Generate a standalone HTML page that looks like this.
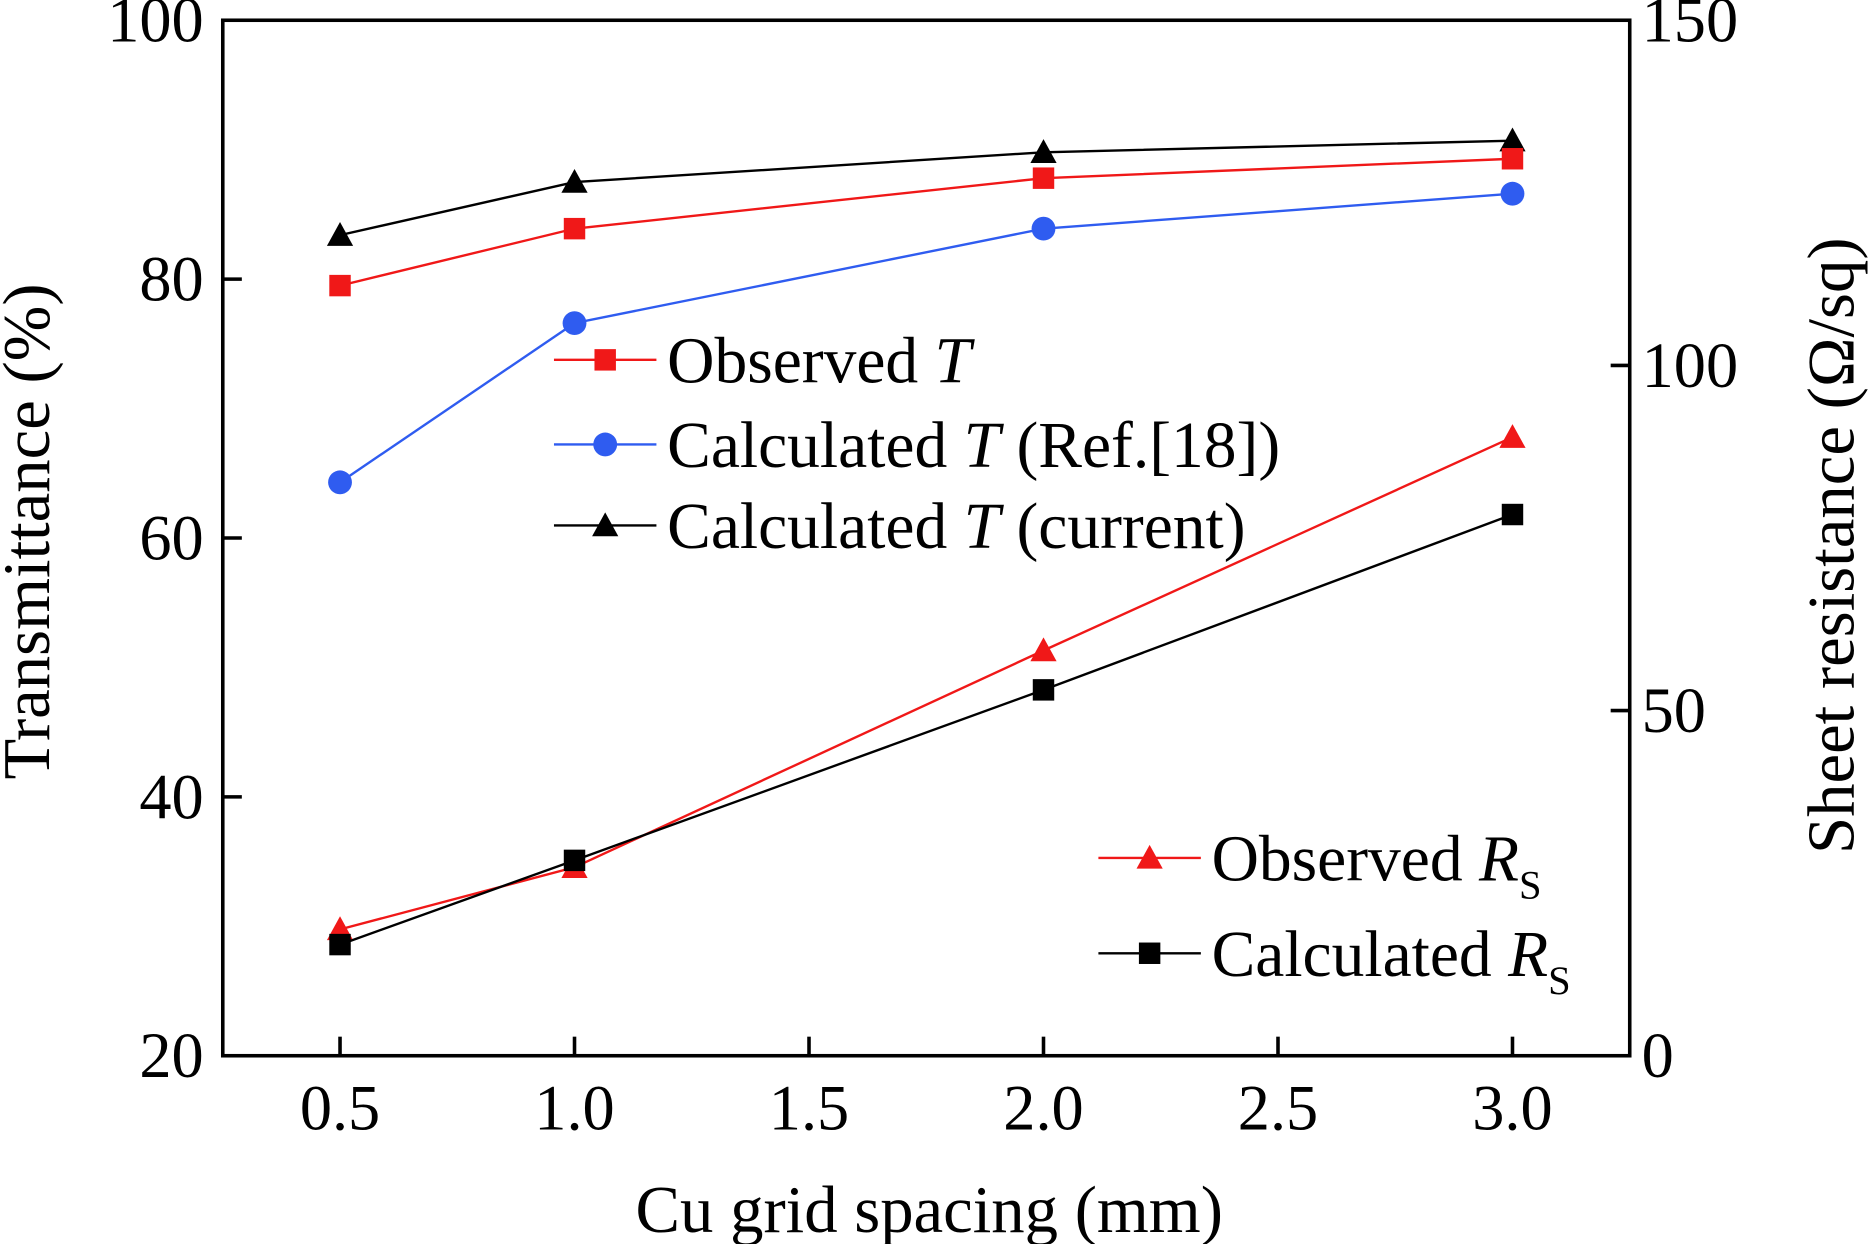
<!DOCTYPE html>
<html><head><meta charset="utf-8"><style>html,body{margin:0;padding:0;background:#fff}svg{display:block}text{font-family:"Liberation Serif",serif;fill:#000}</style></head>
<body>
<svg id="chart" width="1868" height="1244" viewBox="0 0 1568 1044" preserveAspectRatio="none" xmlns="http://www.w3.org/2000/svg"></svg>
<script>
const xCats=[0.5,1.0,2.0,3.0];
const obsT=[79.5,83.9,87.8,89.3];
const calcTRef=[64.3,76.6,83.9,86.6];
const calcTCur=[83.4,87.5,89.8,90.7];
const obsRs=[18.3,27.3,58.7,89.6];
const calcRs=[16.1,28.3,53.0,78.4];
const xTicks=[0.5,1.0,1.5,2.0,2.5,3.0];
const xTickLabels=["0.5","1.0","1.5","2.0","2.5","3.0"];
const yTicks=[20,40,60,80,100];
const y2Ticks=[0,50,100,150];

const L=187,R=1368,T=17,B=886;
const sx=v=>L+(v-0.25)/3.0*(R-L);
const sy=v=>B-(v-20)/80*(B-T);
const sy2=v=>B-v/150*(B-T);
const svg=document.getElementById('chart');
const NS="http://www.w3.org/2000/svg";
function el(tag,attrs,parent){const e=document.createElementNS(NS,tag);for(const k in attrs)e.setAttribute(k,attrs[k]);(parent||svg).appendChild(e);return e;}

const frame=el('rect',{x:L,y:T,width:R-L,height:B-T,fill:'none',stroke:'#000','stroke-width':3});



xTicks.forEach((v,i)=>{
  const t=el('line',{x1:sx(v),x2:sx(v),y1:B,y2:B-16,stroke:'#000','stroke-width':3});
  
  
  const l=el('text',{x:sx(v),y:948,'font-size':54,'text-anchor':'middle'});
  l.textContent=xTickLabels[i];
  
  
});
yTicks.forEach(v=>{
  const t=el('line',{x1:L,x2:L+16,y1:sy(v),y2:sy(v),stroke:'#000','stroke-width':3});
  
  
  const l=el('text',{x:171,y:sy(v)+18,'font-size':54,'text-anchor':'end'});
  l.textContent=String(v);
  
  
});
y2Ticks.forEach(v=>{
  const t=el('line',{x1:R,x2:R-16,y1:sy2(v),y2:sy2(v),stroke:'#000','stroke-width':3});
  
  
  const l=el('text',{x:1378,y:sy2(v)+18,'font-size':54,'text-anchor':'start'});
  l.textContent=String(v);
  
  
});

let tt=el('text',{x:780,y:1034,'font-size':56,'text-anchor':'middle'});
tt.textContent='Cu grid spacing (mm)';


tt=el('text',{x:0,y:0,'font-size':56,'text-anchor':'middle',transform:'translate(41,446) rotate(-90)'});
tt.textContent='Transmittance (%)';


tt=el('text',{x:0,y:0,'font-size':56,'text-anchor':'middle',transform:'translate(1556,458) rotate(-90)'});
tt.textContent='Sheet resistance (\u03A9/sq)';



function marker(shape,cx,cy,color,s){
  let m;
  if(shape==='sq')m=el('rect',{x:cx-s,y:cy-s,width:2*s,height:2*s,fill:color});
  else if(shape==='ci')m=el('circle',{cx:cx,cy:cy,r:s+1,fill:color});
  else m=el('polygon',{points:`${cx},${cy-s-2} ${cx+s+2},${cy+s} ${cx-s-2},${cy+s}`,fill:color});
  return m;
}
function series(vals,scale,color,shape,name){
  const pts=vals.map((v,i)=>[sx(xCats[i]),scale(v)]);
  const p=el('polyline',{points:pts.map(p=>p.join(',')).join(' '),fill:'none',stroke:color,'stroke-width':2});
  
  
  pts.forEach(q=>{
    const m=marker(shape,q[0],q[1],color,9);
    
    
  });
}
const RED='#f01818',BLUE='#2f5cf0',BLK='#000';
series(calcTCur,sy,BLK,'tr','calc-t-current');
series(obsT,sy,RED,'sq','observed-t');
series(calcTRef,sy,BLUE,'ci','calc-t-ref18');
series(obsRs,sy2,RED,'tr','observed-rs');
series(calcRs,sy2,BLK,'sq','calc-rs');

function legend(x,y,color,shape,html,name){
  const g=el('g',{});
  
  
  el('line',{x1:x-43,x2:x+43,y1:y,y2:y,stroke:color,'stroke-width':2},g);
  const m=marker(shape,x,y,color,9);g.appendChild(m);
  const t=el('text',{x:x+52,y:y+19,'font-size':55,'textLength':0},g);
  t.removeAttribute('textLength');
  t.innerHTML=html;
}
legend(508,302,RED,'sq','Observed <tspan font-style="italic">T</tspan>','legend-observed-t');
legend(508,373,BLUE,'ci','Calculated <tspan font-style="italic">T</tspan> (Ref.[18])','legend-calc-t-ref18');
legend(508,441,BLK,'tr','Calculated <tspan font-style="italic">T</tspan> (current)','legend-calc-t-current');
legend(965,720,RED,'tr','Observed <tspan font-style="italic">R</tspan><tspan font-size="34" dy="15">S</tspan>','legend-observed-rs');
legend(965,800,BLK,'sq','Calculated <tspan font-style="italic">R</tspan><tspan font-size="34" dy="15">S</tspan>','legend-calc-rs');
</script>
</body></html>
